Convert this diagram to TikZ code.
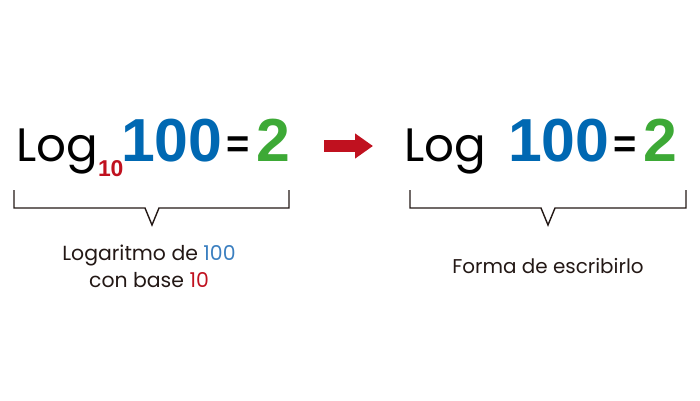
\documentclass[tikz,border=0pt]{standalone}
\usepackage{fontspec}
\setmainfont{Poppins}
\newfontfamily\digitfont{Liberation Sans}
\usetikzlibrary{arrows.meta,positioning}

\definecolor{logblue}{HTML}{0068B2}
\definecolor{loggreen}{HTML}{3DA936}
\definecolor{logred}{HTML}{C0111F}
\definecolor{lblblue}{HTML}{3B7FC0}
\definecolor{inkblack}{HTML}{231815}

\begin{document}
\begin{tikzpicture}[x=1bp,y=-1bp,
    every node/.style={inner sep=0pt,outer sep=0pt},
    logword/.style={anchor=base west,font=\fontsize{47}{47}\selectfont},
    bignum/.style={anchor=base west,font=\digitfont\bfseries\fontsize{61}{61}\selectfont},
    eqsign/.style={anchor=base west,text=black,font=\digitfont\bfseries\fontsize{40}{40}\selectfont},
    subnum/.style={anchor=base west,text=logred,font=\digitfont\bfseries\fontsize{23}{23}\selectfont},
    caption/.style={align=center,text=inkblack,font=\fontsize{20.5}{27}\selectfont},
    brace/.style={draw=inkblack,line width=1.4bp}]
  \useasboundingbox (0,0) rectangle (700,400);

  % left formula
  \node[logword] (logA) at (16,161) {Log};
  \node[subnum] (baseA) at (98,176) {10};
  \node[bignum,text=logblue] (numA) at (121,161) {100};
  \node[eqsign] (eqA) at (226,157) {=};
  \node[bignum,text=loggreen] (resA) at (256,161) {2};

  % right formula
  \node[logword] (logB) at (404,161) {Log};
  \node[bignum,text=logblue] (numB) at (508,161) {100};
  \node[eqsign] (eqB) at (613,157) {=};
  \node[bignum,text=loggreen] (resB) at (643,161) {2};

  % arrow between them
  \coordinate (tailA) at (324,146);
  \coordinate (tipB) at (373,146);
  \draw[logred,line width=12bp,-{Triangle[length=18bp,width=24bp]}] (tailA) -- (tipB);

  % braces
  \draw[brace] (14,190) -- (14,208) -- (145,208) -- (152,225) -- (159,208) -- (289,208) -- (289,190);
  \draw[brace] (410,190) -- (410,208) -- (541,208) -- (548,225) -- (555,208) -- (686,208) -- (686,190);

  % captions
  \node[caption] (capA) at (149,266) {Logaritmo de \textcolor{lblblue}{100}\\con base \textcolor{logred}{10}};
  \node[caption,font=\fontsize{20}{27}\selectfont] (capB) at (548,266) {Forma de escribirlo};
\end{tikzpicture}
\end{document}
